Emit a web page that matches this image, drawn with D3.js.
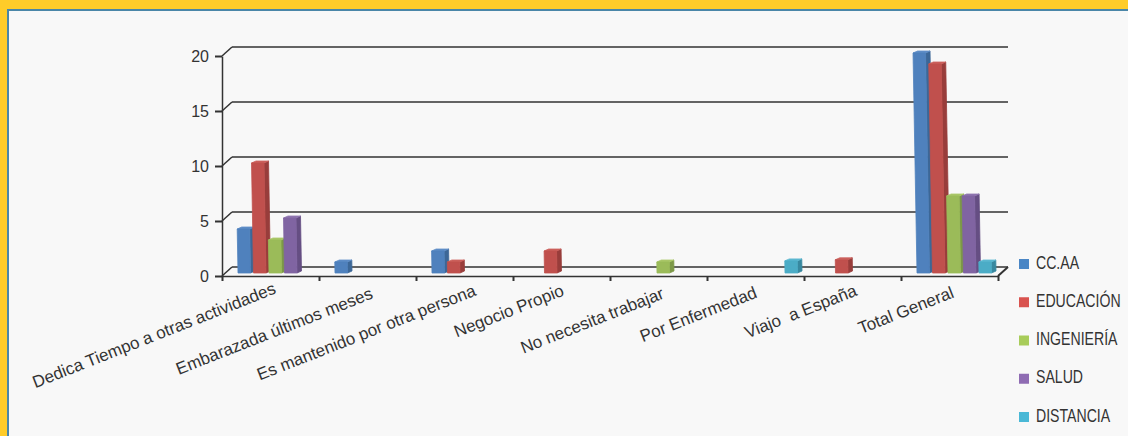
<!DOCTYPE html>
<html lang="es">
<head>
<meta charset="UTF-8">
<title>Motivos por carrera</title>
<script src="https://d3js.org/d3.v7.min.js"></script>
<style>
    html, body { margin: 0; padding: 0; background: #ffcc29; }
    svg { display: block; font-family: "Liberation Sans", Arial, sans-serif; fill: #333; }
    .axis path, .axis line { stroke: #333; }
    .axis text { font-size: 16px; fill: #333; font-family: "Liberation Sans", Arial, sans-serif; }
    .cat { font-size: 17px; fill: #333; }
    .leg { font-size: 17px; fill: #333; }
</style>
</head>
<body>
<svg id="chart" width="1128" height="436"></svg>
<script>
    // Values
    const categories = ["Dedica Tiempo a otras actividades", "Embarazada últimos meses", "Es mantenido por otra persona",
        "Negocio Propio", "No necesita trabajar", "Por Enfermedad", "Viajo  a España", "Total General"];
    const seriesNames = ["CC.AA", "EDUCACIÓN", "INGENIERÍA", "SALUD", "DISTANCIA"];
    const ccaa       = [4, 1, 2, 0, 0, 0, 0, 20];
    const educacion  = [10, 0, 1, 2, 0, 0, 1.2, 19];
    const ingenieria = [3, 0, 0, 0, 1, 0, 0, 7];
    const salud      = [5, 0, 0, 0, 0, 0, 0, 7];
    const distancia  = [0, 0, 0, 0, 0, 1.1, 0, 1];
    const yTicks = [0, 5, 10, 15, 20];

    const allSeries = [ccaa, educacion, ingenieria, salud, distancia];
    const front = ["#4f81bd", "#c0504d", "#9bbb59", "#8064a2", "#4bacc6"];
    const side = ["#3c6797", "#983d3b", "#7c9847", "#654e83", "#37889f"];
    const topc = ["#5e8dc6", "#cc605c", "#a9c768", "#8e73ae", "#5cb8d0"];
    const legendColor = ["#4a86c5", "#d9534f", "#a8cc5a", "#8f6cb3", "#4ab8d6"];

    const svg = d3.select("#chart");

    // panel with the thin blue edge inside the yellow frame
    svg.append("rect").attr("x", 7).attr("y", 9).attr("width", 1121).attr("height", 427).attr("fill", "#4a86a8");
    svg.append("rect").attr("x", 9).attr("y", 11).attr("width", 1119).attr("height", 425).attr("fill", "#f8f8f8");

    const x = d3.scaleBand().domain(categories).range([222, 998]);
    const xEdge = d3.scaleLinear().domain([0, categories.length]).range([222, 998]);
    const xInner = d3.scaleBand().domain(seriesNames).range([16, 16 + 77.5]);
    const y = d3.scaleLinear().domain([0, 20]).range([276, 56]);

    const depthX = 10, depthY = -9;   // depth of the floor
    const barW = 12.5, barDX = 4.5, barDY = -2, lean = 0.018, lift = -3;

    // the original labels don't sit evenly under their bands
    const labelDx = [6.5, 6.5, 12.5, 3.5, 6.5, 2.5, 5.5, 5.5];
    const labelDy = [293, 298, 295, 295, 298, 297, 295, 297];

    // back wall grid lines and their connectors to the front axis
    const grid = svg.append("g").attr("stroke", "#333").attr("stroke-width", 1.5).attr("fill", "none");
    yTicks.forEach(function(t) {
        grid.append("line")
            .attr("x1", x.range()[0] + depthX).attr("x2", x.range()[1] + depthX)
            .attr("y1", y(t) + depthY).attr("y2", y(t) + depthY);
        grid.append("line")
            .attr("x1", x.range()[0]).attr("x2", x.range()[0] + depthX)
            .attr("y1", y(t)).attr("y2", y(t) + depthY);
    });
    grid.append("line")
        .attr("x1", x.range()[1]).attr("x2", x.range()[1] + depthX)
        .attr("y1", y(0)).attr("y2", y(0) + depthY)
        .attr("stroke-width", 2);

    // axes
    const yAxis = svg.append("g").attr("class", "axis").attr("transform", "translate(222,0)")
        .call(d3.axisLeft(y).tickValues(yTicks).tickSize(7).tickPadding(6).tickSizeOuter(0));
    yAxis.selectAll("line").attr("stroke-width", 2);
    yAxis.select("path").attr("stroke-width", 1.5);

    const xAxis = svg.append("g").attr("class", "axis").attr("transform", "translate(0," + y(0) + ")")
        .call(d3.axisBottom(xEdge).ticks(categories.length).tickSize(5).tickSizeOuter(0).tickFormat(""));
    xAxis.selectAll("line").attr("stroke-width", 2);
    xAxis.select("path").attr("stroke-width", 1.5);

    // bars, left to right so each one covers the side of the previous one
    categories.forEach(function(cat, c) {
        seriesNames.forEach(function(name, s) {
            const v = allSeries[s][c];
            if (!v) return;
            const x0 = x(cat) + xInner(name);
            const yb = y(0) + lift, yt = y(v) + lift;
            const xt = x0 - lean * (yb - yt);
            const g = svg.append("g").attr("stroke-linejoin", "round").attr("stroke-width", 0.8);
            g.append("polygon")
                .attr("points", [[x0 + barW, yb], [x0 + barW + barDX, yb + barDY], [xt + barW + barDX, yt + barDY], [xt + barW, yt]].join(" "))
                .attr("fill", side[s]).attr("stroke", side[s]);
            g.append("polygon")
                .attr("points", [[xt, yt], [xt + barDX, yt + barDY], [xt + barW + barDX, yt + barDY], [xt + barW, yt]].join(" "))
                .attr("fill", topc[s]).attr("stroke", topc[s]);
            g.append("polygon")
                .attr("points", [[x0, yb], [xt, yt], [xt + barW, yt], [x0 + barW, yb]].join(" "))
                .attr("fill", front[s]).attr("stroke", front[s]);
        });
    });

    // rotated category labels
    svg.selectAll(".cat")
        .data(categories)
        .enter().append("text")
        .attr("class", "cat")
        .attr("text-anchor", "end")
        .style("white-space", "pre")
        .attr("transform", (d, i) => "translate(" + (x(d) + x.bandwidth() / 2 + labelDx[i]) + "," + labelDy[i] + ") rotate(-21.5)")
        .text(d => d);

    // legend, text squeezed like the narrow face in the original
    const legendY = d3.scalePoint().domain(seriesNames).range([264, 417]);
    const legend = svg.selectAll(".legrow")
        .data(seriesNames)
        .enter().append("g")
        .attr("class", "legrow")
        .attr("transform", d => "translate(1019," + legendY(d) + ")");
    legend.append("rect")
        .attr("y", -5).attr("width", 10).attr("height", 10)
        .attr("fill", (d, i) => legendColor[i]);
    legend.append("text")
        .attr("class", "leg")
        .attr("transform", "translate(17,-1) scale(0.83,1.05)")
        .attr("dy", "0.32em")
        .text(d => d);
</script>
</body>
</html>
